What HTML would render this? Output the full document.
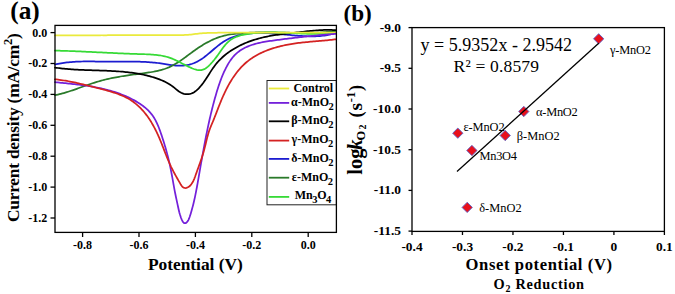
<!DOCTYPE html>
<html><head><meta charset="utf-8"><style>
html,body{margin:0;padding:0;background:#fff;}
body{width:675px;height:294px;overflow:hidden;}
svg{display:block;}
text{font-family:"Liberation Serif",serif;fill:#000;}
.tl{font-size:12px;font-weight:bold;}
.tb{font-size:13.4px;font-weight:bold;}
.lg{font-size:12px;font-weight:bold;}
.sb{font-size:10.5px;}
.pl{font-size:12.4px;}
.ax{font-weight:bold;}
</style></head><body>
<svg width="675" height="294" viewBox="0 0 675 294">
<rect width="675" height="294" fill="#fff"/>
<!-- panel a -->
<text x="10.2" y="19.2" class="ax" font-size="24.3px" textLength="29.6" lengthAdjust="spacingAndGlyphs">(a)</text>
<path d="M55.00,64.52 L56.48,64.18 L57.96,63.87 L59.45,63.58 L60.94,63.31 L62.44,63.07 L63.93,62.84 L65.44,62.64 L66.94,62.45 L68.45,62.29 L69.95,62.14 L71.46,62.01 L72.98,61.89 L74.49,61.79 L76.00,61.71 L77.51,61.64 L79.03,61.58 L80.54,61.53 L82.06,61.50 L83.57,61.47 L85.09,61.45 L86.60,61.44 L88.12,61.44 L89.63,61.45 L91.15,61.46 L92.66,61.47 L94.18,61.49 L95.70,61.51 L97.21,61.54 L98.73,61.56 L100.24,61.59 L101.76,61.61 L103.27,61.63 L104.79,61.66 L106.30,61.67 L107.82,61.68 L109.33,61.69 L110.85,61.70 L112.36,61.70 L113.88,61.69 L115.39,61.68 L116.91,61.68 L118.42,61.66 L119.94,61.65 L121.45,61.64 L122.97,61.63 L124.49,61.62 L126.00,61.61 L127.52,61.61 L129.03,61.61 L130.55,61.61 L132.06,61.61 L133.58,61.62 L135.09,61.64 L136.61,61.66 L138.12,61.69 L139.64,61.73 L141.15,61.78 L142.67,61.83 L144.18,61.90 L145.69,61.97 L147.21,62.06 L148.72,62.15 L150.23,62.26 L151.74,62.38 L153.25,62.52 L154.76,62.67 L156.27,62.83 L157.77,63.00 L159.27,63.20 L160.77,63.41 L162.27,63.63 L163.77,63.86 L165.27,64.10 L166.76,64.34 L168.26,64.57 L169.76,64.80 L171.26,65.01 L172.76,65.20 L174.27,65.37 L175.78,65.51 L177.29,65.61 L178.80,65.67 L180.32,65.68 L181.83,65.64 L183.35,65.54 L184.85,65.39 L186.35,65.18 L187.85,64.91 L189.33,64.58 L190.79,64.20 L192.24,63.75 L193.66,63.24 L195.07,62.67 L196.45,62.04 L197.80,61.35 L199.12,60.61 L200.41,59.82 L201.68,58.99 L202.92,58.13 L204.15,57.23 L205.35,56.31 L206.54,55.37 L207.71,54.41 L208.88,53.44 L210.04,52.46 L211.19,51.48 L212.34,50.49 L213.49,49.51 L214.64,48.52 L215.80,47.55 L216.97,46.58 L218.15,45.63 L219.35,44.70 L220.56,43.79 L221.79,42.91 L223.04,42.06 L224.32,41.25 L225.63,40.48 L226.96,39.75 L228.31,39.06 L229.68,38.41 L231.07,37.81 L232.47,37.25 L233.90,36.73 L235.33,36.25 L236.78,35.81 L238.24,35.40 L239.71,35.04 L241.19,34.71 L242.68,34.41 L244.17,34.14 L245.67,33.91 L247.17,33.71 L248.68,33.53 L250.18,33.38 L251.69,33.26 L253.21,33.16 L254.72,33.09 L256.23,33.03 L257.75,33.00 L259.26,32.99 L260.78,32.99 L262.29,33.01 L263.81,33.04 L265.32,33.09 L266.84,33.15 L268.35,33.23 L269.87,33.31 L271.38,33.41 L272.89,33.51 L274.40,33.62 L275.91,33.74 L277.42,33.87 L278.93,34.00 L280.44,34.13 L281.95,34.27 L283.46,34.41 L284.97,34.55 L286.48,34.69 L287.98,34.84 L289.49,34.98 L291.00,35.12 L292.51,35.26 L294.02,35.39 L295.53,35.52 L297.04,35.64 L298.55,35.76 L300.06,35.86 L301.58,35.96 L303.09,36.05 L304.60,36.13 L306.12,36.20 L307.63,36.25 L309.14,36.29 L310.66,36.31 L312.17,36.32 L313.69,36.30 L315.21,36.27 L316.72,36.21 L318.23,36.13 L319.74,36.02 L321.25,35.89 L322.76,35.72 L324.26,35.53 L325.76,35.30 L327.25,35.04 L328.74,34.74 L330.21,34.40 L331.68,34.01 L333.14,33.59 L334.58,33.12 L336.00,32.60" stroke="#1c1cd0" stroke-width="1.75" fill="none" stroke-linejoin="round" stroke-linecap="round"/>
<path d="M55.00,95.19 L56.48,94.89 L57.96,94.56 L59.43,94.21 L60.90,93.84 L62.36,93.45 L63.82,93.04 L65.28,92.61 L66.73,92.18 L68.17,91.72 L69.61,91.26 L71.05,90.79 L72.49,90.30 L73.92,89.81 L75.35,89.31 L76.78,88.81 L78.20,88.30 L79.63,87.79 L81.05,87.27 L82.48,86.76 L83.91,86.25 L85.33,85.74 L86.76,85.23 L88.19,84.73 L89.62,84.24 L91.05,83.75 L92.49,83.27 L93.93,82.80 L95.37,82.34 L96.82,81.90 L98.27,81.47 L99.73,81.05 L101.19,80.65 L102.65,80.26 L104.12,79.89 L105.59,79.52 L107.06,79.17 L108.54,78.84 L110.02,78.51 L111.50,78.20 L112.98,77.89 L114.47,77.60 L115.96,77.31 L117.45,77.04 L118.94,76.77 L120.43,76.51 L121.92,76.26 L123.42,76.02 L124.91,75.79 L126.41,75.56 L127.91,75.33 L129.41,75.12 L130.91,74.90 L132.41,74.69 L133.91,74.49 L135.41,74.29 L136.91,74.09 L138.41,73.90 L139.92,73.70 L141.42,73.51 L142.92,73.32 L144.42,73.12 L145.92,72.92 L147.42,72.70 L148.92,72.48 L150.42,72.25 L151.91,72.00 L153.40,71.74 L154.89,71.45 L156.37,71.15 L157.85,70.82 L159.32,70.47 L160.79,70.09 L162.25,69.68 L163.70,69.23 L165.13,68.76 L166.56,68.24 L167.97,67.69 L169.36,67.10 L170.74,66.47 L172.09,65.79 L173.43,65.08 L174.75,64.34 L176.06,63.57 L177.34,62.78 L178.62,61.96 L179.88,61.12 L181.13,60.26 L182.37,59.39 L183.60,58.51 L184.83,57.62 L186.05,56.72 L187.26,55.82 L188.48,54.92 L189.69,54.01 L190.91,53.11 L192.13,52.21 L193.35,51.32 L194.58,50.43 L195.82,49.56 L197.06,48.70 L198.32,47.85 L199.58,47.02 L200.85,46.20 L202.14,45.39 L203.43,44.61 L204.74,43.84 L206.05,43.09 L207.38,42.36 L208.72,41.65 L210.07,40.96 L211.43,40.30 L212.81,39.67 L214.19,39.06 L215.59,38.48 L217.00,37.93 L218.43,37.41 L219.86,36.92 L221.30,36.47 L222.76,36.05 L224.23,35.67 L225.70,35.32 L227.18,35.01 L228.67,34.73 L230.16,34.47 L231.66,34.24 L233.16,34.03 L234.66,33.85 L236.17,33.68 L237.67,33.52 L239.18,33.38 L240.69,33.25 L242.20,33.13 L243.71,33.02 L245.22,32.92 L246.73,32.83 L248.25,32.75 L249.76,32.68 L251.27,32.62 L252.79,32.56 L254.30,32.52 L255.81,32.48 L257.33,32.45 L258.84,32.42 L260.36,32.40 L261.87,32.39 L263.39,32.38 L264.90,32.38 L266.41,32.39 L267.93,32.39 L269.44,32.40 L270.96,32.42 L272.47,32.44 L273.99,32.46 L275.50,32.48 L277.01,32.51 L278.53,32.53 L280.04,32.56 L281.56,32.59 L283.07,32.62 L284.59,32.65 L286.10,32.68 L287.61,32.71 L289.13,32.74 L290.64,32.77 L292.16,32.79 L293.67,32.81 L295.19,32.83 L296.70,32.85 L298.21,32.87 L299.73,32.88 L301.24,32.88 L302.76,32.88 L304.27,32.88 L305.79,32.87 L307.30,32.86 L308.82,32.84 L310.33,32.81 L311.84,32.78 L313.36,32.74 L314.87,32.69 L316.38,32.63 L317.90,32.57 L319.41,32.50 L320.92,32.41 L322.43,32.32 L323.95,32.22 L325.46,32.10 L326.96,31.98 L328.47,31.84 L329.98,31.70 L331.49,31.54 L332.99,31.37 L334.49,31.18 L336.00,30.98" stroke="#2a7a2a" stroke-width="1.75" fill="none" stroke-linejoin="round" stroke-linecap="round"/>
<path d="M55.01,67.58 L56.50,67.80 L57.99,68.00 L59.49,68.19 L60.99,68.37 L62.48,68.54 L63.98,68.70 L65.48,68.84 L66.99,68.98 L68.49,69.10 L69.99,69.22 L71.50,69.33 L73.00,69.43 L74.50,69.53 L76.01,69.61 L77.52,69.70 L79.02,69.77 L80.53,69.84 L82.03,69.91 L83.54,69.97 L85.05,70.03 L86.55,70.08 L88.06,70.13 L89.57,70.18 L91.07,70.23 L92.58,70.28 L94.09,70.33 L95.59,70.37 L97.10,70.42 L98.61,70.47 L100.12,70.52 L101.62,70.57 L103.13,70.62 L104.64,70.68 L106.14,70.74 L107.65,70.80 L109.16,70.87 L110.66,70.94 L112.17,71.02 L113.67,71.10 L115.18,71.19 L116.68,71.28 L118.19,71.39 L119.69,71.50 L121.19,71.62 L122.70,71.74 L124.20,71.88 L125.70,72.03 L127.20,72.19 L128.69,72.36 L130.19,72.54 L131.69,72.73 L133.18,72.93 L134.67,73.15 L136.16,73.38 L137.65,73.63 L139.14,73.89 L140.62,74.16 L142.10,74.46 L143.57,74.76 L145.05,75.09 L146.51,75.43 L147.98,75.79 L149.44,76.17 L150.89,76.57 L152.34,76.98 L153.78,77.42 L155.22,77.88 L156.65,78.35 L158.07,78.86 L159.49,79.38 L160.89,79.94 L162.28,80.52 L163.65,81.14 L165.01,81.79 L166.35,82.48 L167.68,83.20 L168.98,83.96 L170.25,84.77 L171.50,85.61 L172.72,86.50 L173.91,87.42 L175.08,88.38 L176.24,89.34 L177.41,90.29 L178.62,91.20 L179.87,92.03 L181.20,92.75 L182.58,93.34 L184.02,93.79 L185.50,94.09 L187.00,94.22 L188.50,94.18 L189.99,93.94 L191.44,93.51 L192.82,92.91 L194.13,92.16 L195.37,91.31 L196.55,90.37 L197.67,89.36 L198.73,88.29 L199.76,87.19 L200.74,86.05 L201.70,84.88 L202.62,83.69 L203.52,82.48 L204.39,81.25 L205.25,80.01 L206.09,78.75 L206.91,77.49 L207.73,76.22 L208.54,74.95 L209.34,73.68 L210.15,72.40 L210.97,71.14 L211.80,69.88 L212.64,68.62 L213.50,67.39 L214.38,66.16 L215.29,64.96 L216.23,63.78 L217.20,62.63 L218.20,61.50 L219.23,60.40 L220.28,59.32 L221.36,58.27 L222.46,57.24 L223.59,56.24 L224.74,55.26 L225.91,54.31 L227.11,53.39 L228.32,52.49 L229.55,51.62 L230.80,50.78 L232.06,49.96 L233.34,49.16 L234.64,48.39 L235.95,47.64 L237.27,46.92 L238.61,46.22 L239.95,45.54 L241.31,44.89 L242.68,44.26 L244.06,43.65 L245.45,43.06 L246.84,42.49 L248.25,41.94 L249.66,41.42 L251.08,40.91 L252.51,40.42 L253.94,39.95 L255.38,39.50 L256.82,39.07 L258.27,38.66 L259.73,38.26 L261.19,37.88 L262.65,37.52 L264.12,37.18 L265.59,36.85 L267.07,36.54 L268.55,36.24 L270.03,35.96 L271.51,35.70 L273.00,35.44 L274.49,35.21 L275.98,34.98 L277.47,34.77 L278.96,34.56 L280.46,34.37 L281.95,34.18 L283.45,34.00 L284.95,33.82 L286.45,33.65 L287.94,33.48 L289.44,33.31 L290.94,33.15 L292.44,32.98 L293.94,32.81 L295.44,32.64 L296.93,32.46 L298.43,32.28 L299.93,32.10 L301.42,31.93 L302.92,31.75 L304.42,31.57 L305.92,31.40 L307.42,31.24 L308.91,31.07 L310.41,30.92 L311.91,30.77 L313.42,30.63 L314.92,30.50 L316.42,30.38 L317.92,30.27 L319.43,30.17 L320.93,30.09 L322.44,30.02 L323.95,29.97 L325.45,29.93 L326.96,29.91 L328.47,29.91 L329.98,29.93 L331.48,29.97 L332.99,30.03 L334.50,30.11 L336.00,30.21" stroke="#000" stroke-width="1.75" fill="none" stroke-linejoin="round" stroke-linecap="round"/>
<path d="M55.00,50.60 L56.51,50.64 L58.01,50.68 L59.52,50.72 L61.03,50.76 L62.54,50.80 L64.05,50.85 L65.56,50.90 L67.07,50.95 L68.58,51.00 L70.08,51.06 L71.59,51.11 L73.10,51.17 L74.61,51.23 L76.12,51.29 L77.62,51.36 L79.13,51.42 L80.64,51.48 L82.15,51.55 L83.66,51.62 L85.16,51.69 L86.67,51.76 L88.18,51.83 L89.69,51.90 L91.19,51.97 L92.70,52.04 L94.21,52.11 L95.72,52.19 L97.22,52.26 L98.73,52.33 L100.24,52.41 L101.75,52.48 L103.25,52.55 L104.76,52.63 L106.27,52.70 L107.78,52.77 L109.28,52.85 L110.79,52.92 L112.30,52.99 L113.81,53.06 L115.32,53.13 L116.82,53.20 L118.33,53.27 L119.84,53.33 L121.35,53.40 L122.85,53.46 L124.36,53.53 L125.87,53.59 L127.38,53.65 L128.89,53.71 L130.40,53.76 L131.90,53.82 L133.41,53.87 L134.92,53.93 L136.43,53.97 L137.94,54.02 L139.45,54.07 L140.96,54.11 L142.46,54.15 L143.97,54.20 L145.48,54.25 L146.99,54.30 L148.50,54.37 L150.00,54.44 L151.51,54.53 L153.02,54.63 L154.52,54.76 L156.02,54.90 L157.52,55.07 L159.02,55.27 L160.51,55.49 L162.00,55.75 L163.48,56.04 L164.95,56.37 L166.42,56.73 L167.87,57.14 L169.31,57.60 L170.73,58.10 L172.14,58.65 L173.53,59.23 L174.91,59.85 L176.27,60.49 L177.63,61.15 L178.98,61.84 L180.32,62.53 L181.66,63.23 L182.99,63.93 L184.33,64.62 L185.68,65.31 L187.02,65.99 L188.38,66.65 L189.75,67.29 L191.13,67.90 L192.52,68.48 L193.94,69.00 L195.38,69.45 L196.84,69.81 L198.33,70.05 L199.84,70.14 L201.34,70.03 L202.82,69.71 L204.22,69.17 L205.54,68.43 L206.77,67.56 L207.93,66.60 L209.04,65.57 L210.11,64.50 L211.14,63.40 L212.16,62.28 L213.14,61.14 L214.11,59.98 L215.05,58.80 L215.97,57.60 L216.86,56.39 L217.75,55.17 L218.62,53.93 L219.48,52.70 L220.35,51.46 L221.22,50.23 L222.10,49.00 L223.00,47.79 L223.92,46.59 L224.87,45.42 L225.85,44.27 L226.88,43.16 L227.94,42.10 L229.06,41.09 L230.24,40.14 L231.47,39.27 L232.76,38.48 L234.09,37.77 L235.46,37.13 L236.85,36.56 L238.28,36.06 L239.72,35.61 L241.18,35.22 L242.64,34.87 L244.12,34.56 L245.60,34.28 L247.09,34.04 L248.59,33.81 L250.08,33.61 L251.58,33.42 L253.08,33.25 L254.58,33.10 L256.08,32.96 L257.59,32.84 L259.09,32.74 L260.60,32.65 L262.11,32.57 L263.62,32.51 L265.12,32.47 L266.63,32.43 L268.14,32.41 L269.65,32.39 L271.16,32.39 L272.67,32.40 L274.18,32.41 L275.69,32.44 L277.20,32.47 L278.71,32.51 L280.22,32.55 L281.72,32.60 L283.23,32.66 L284.74,32.72 L286.25,32.79 L287.76,32.86 L289.26,32.93 L290.77,33.00 L292.28,33.08 L293.79,33.15 L295.29,33.23 L296.80,33.30 L298.31,33.38 L299.82,33.45 L301.32,33.52 L302.83,33.59 L304.34,33.66 L305.85,33.72 L307.36,33.77 L308.86,33.82 L310.37,33.87 L311.88,33.91 L313.39,33.94 L314.90,33.96 L316.41,33.98 L317.92,33.98 L319.43,33.98 L320.94,33.96 L322.45,33.94 L323.95,33.90 L325.46,33.85 L326.97,33.79 L328.48,33.71 L329.99,33.62 L331.49,33.51 L333.00,33.39 L334.50,33.25 L336.00,33.10" stroke="#36da36" stroke-width="1.75" fill="none" stroke-linejoin="round" stroke-linecap="round"/>
<path d="M55.00,35.40 L56.51,35.39 L58.02,35.39 L59.53,35.38 L61.05,35.37 L62.56,35.37 L64.07,35.36 L65.58,35.36 L67.09,35.35 L68.60,35.34 L70.11,35.34 L71.62,35.33 L73.14,35.33 L74.65,35.32 L76.16,35.32 L77.67,35.31 L79.18,35.31 L80.69,35.30 L82.20,35.30 L83.72,35.30 L85.23,35.29 L86.74,35.29 L88.25,35.28 L89.76,35.28 L91.27,35.28 L92.78,35.27 L94.29,35.27 L95.81,35.27 L97.32,35.26 L98.83,35.26 L100.34,35.26 L101.85,35.25 L103.36,35.25 L104.87,35.25 L106.38,35.25 L107.90,35.24 L109.41,35.24 L110.92,35.24 L112.43,35.24 L113.94,35.23 L115.45,35.23 L116.96,35.23 L118.48,35.23 L119.99,35.23 L121.50,35.23 L123.01,35.22 L124.52,35.22 L126.03,35.22 L127.54,35.22 L129.05,35.22 L130.57,35.22 L132.08,35.22 L133.59,35.22 L135.10,35.22 L136.61,35.21 L138.12,35.21 L139.63,35.21 L141.15,35.21 L142.66,35.21 L144.17,35.21 L145.68,35.21 L147.19,35.21 L148.70,35.21 L150.21,35.21 L151.72,35.21 L153.24,35.21 L154.75,35.21 L156.26,35.21 L157.77,35.21 L159.28,35.21 L160.79,35.21 L162.30,35.21 L163.82,35.21 L165.33,35.21 L166.84,35.21 L168.35,35.21 L169.86,35.21 L171.37,35.21 L172.88,35.21 L174.39,35.20 L175.91,35.20 L177.42,35.18 L178.93,35.16 L180.44,35.13 L181.95,35.08 L183.46,35.03 L184.97,34.96 L186.48,34.87 L187.99,34.77 L189.49,34.65 L191.00,34.51 L192.50,34.34 L194.00,34.17 L195.50,33.98 L197.00,33.80 L198.50,33.62 L200.00,33.45 L201.51,33.31 L203.01,33.19 L204.52,33.10 L206.03,33.02 L207.54,32.97 L209.05,32.93 L210.56,32.89 L212.08,32.85 L213.59,32.82 L215.10,32.79 L216.61,32.76 L218.12,32.73 L219.63,32.70 L221.14,32.68 L222.65,32.66 L224.16,32.63 L225.68,32.62 L227.19,32.60 L228.70,32.58 L230.21,32.57 L231.72,32.55 L233.23,32.54 L234.74,32.53 L236.25,32.52 L237.77,32.52 L239.28,32.51 L240.79,32.51 L242.30,32.50 L243.81,32.50 L245.32,32.50 L246.83,32.50 L248.35,32.50 L249.86,32.50 L251.37,32.50 L252.88,32.50 L254.39,32.51 L255.90,32.51 L257.41,32.52 L258.92,32.52 L260.44,32.53 L261.95,32.54 L263.46,32.54 L264.97,32.55 L266.48,32.56 L267.99,32.57 L269.50,32.57 L271.01,32.58 L272.53,32.59 L274.04,32.60 L275.55,32.61 L277.06,32.62 L278.57,32.63 L280.08,32.64 L281.59,32.65 L283.11,32.66 L284.62,32.67 L286.13,32.67 L287.64,32.68 L289.15,32.69 L290.66,32.70 L292.17,32.71 L293.68,32.71 L295.20,32.72 L296.71,32.72 L298.22,32.73 L299.73,32.73 L301.24,32.74 L302.75,32.74 L304.26,32.74 L305.77,32.74 L307.29,32.74 L308.80,32.74 L310.31,32.74 L311.82,32.73 L313.33,32.73 L314.84,32.72 L316.35,32.72 L317.87,32.71 L319.38,32.70 L320.89,32.69 L322.40,32.68 L323.91,32.67 L325.42,32.65 L326.93,32.63 L328.44,32.62 L329.96,32.60 L331.47,32.57 L332.98,32.55 L334.49,32.53 L336.00,32.50" stroke="#eaea3c" stroke-width="1.75" fill="none" stroke-linejoin="round" stroke-linecap="round"/>
<path d="M55.01,82.20 L56.52,82.34 L58.02,82.49 L59.52,82.63 L61.02,82.78 L62.52,82.93 L64.02,83.07 L65.52,83.22 L67.02,83.38 L68.52,83.53 L70.03,83.69 L71.52,83.85 L73.02,84.02 L74.52,84.19 L76.02,84.36 L77.52,84.54 L79.02,84.73 L80.51,84.92 L82.01,85.12 L83.50,85.32 L85.00,85.53 L86.49,85.75 L87.98,85.98 L89.47,86.21 L90.96,86.46 L92.45,86.71 L93.93,86.98 L95.41,87.25 L96.89,87.54 L98.37,87.83 L99.85,88.14 L101.33,88.46 L102.80,88.79 L104.26,89.14 L105.73,89.50 L107.19,89.87 L108.65,90.26 L110.10,90.66 L111.55,91.07 L113.00,91.51 L114.44,91.95 L115.87,92.42 L117.30,92.90 L118.73,93.40 L120.15,93.92 L121.56,94.45 L122.96,95.00 L124.35,95.58 L125.74,96.17 L127.12,96.78 L128.49,97.41 L129.85,98.06 L131.20,98.73 L132.54,99.43 L133.87,100.14 L135.19,100.88 L136.49,101.63 L137.78,102.41 L139.06,103.22 L140.32,104.05 L141.56,104.91 L142.78,105.80 L143.97,106.72 L145.14,107.67 L146.28,108.66 L147.40,109.68 L148.47,110.73 L149.52,111.82 L150.52,112.95 L151.47,114.11 L152.39,115.32 L153.25,116.55 L154.07,117.82 L154.84,119.12 L155.57,120.44 L156.26,121.78 L156.91,123.14 L157.54,124.51 L158.13,125.90 L158.70,127.29 L159.25,128.70 L159.78,130.11 L160.29,131.53 L160.79,132.95 L161.28,134.38 L161.76,135.81 L162.23,137.24 L162.70,138.68 L163.16,140.11 L163.62,141.55 L164.07,142.99 L164.51,144.44 L164.94,145.88 L165.36,147.33 L165.78,148.78 L166.19,150.23 L166.59,151.68 L166.99,153.14 L167.37,154.60 L167.75,156.06 L168.12,157.52 L168.48,158.99 L168.83,160.45 L169.17,161.92 L169.50,163.39 L169.83,164.87 L170.14,166.34 L170.45,167.82 L170.75,169.30 L171.04,170.78 L171.33,172.26 L171.61,173.74 L171.88,175.22 L172.15,176.71 L172.42,178.19 L172.69,179.68 L172.95,181.16 L173.22,182.65 L173.48,184.13 L173.75,185.62 L174.02,187.10 L174.29,188.58 L174.57,190.07 L174.85,191.55 L175.14,193.03 L175.44,194.51 L175.74,195.99 L176.05,197.46 L176.36,198.94 L176.68,200.41 L177.00,201.89 L177.32,203.36 L177.64,204.84 L177.96,206.31 L178.27,207.79 L178.59,209.26 L178.94,210.73 L179.30,212.19 L179.70,213.65 L180.12,215.10 L180.58,216.53 L181.07,217.96 L181.63,219.36 L182.27,220.72 L183.07,222.01 L184.15,223.04 L185.60,223.16 L186.82,222.30 L187.76,221.12 L188.50,219.81 L189.11,218.43 L189.63,217.01 L190.10,215.58 L190.55,214.14 L190.99,212.70 L191.41,211.25 L191.83,209.80 L192.23,208.35 L192.62,206.89 L193.00,205.43 L193.37,203.96 L193.72,202.50 L194.07,201.03 L194.40,199.56 L194.73,198.09 L195.04,196.61 L195.35,195.14 L195.65,193.66 L195.95,192.18 L196.23,190.70 L196.51,189.21 L196.79,187.73 L197.06,186.25 L197.33,184.76 L197.59,183.28 L197.85,181.79 L198.11,180.31 L198.37,178.82 L198.63,177.33 L198.89,175.85 L199.15,174.36 L199.41,172.88 L199.67,171.39 L199.93,169.90 L200.18,168.42 L200.44,166.93 L200.70,165.44 L200.96,163.96 L201.22,162.47 L201.48,160.99 L201.74,159.50 L202.01,158.02 L202.27,156.53 L202.53,155.05 L202.80,153.56 L203.07,152.08 L203.34,150.59 L203.61,149.11 L203.88,147.62 L204.16,146.14 L204.43,144.66 L204.71,143.18 L204.99,141.69 L205.28,140.21 L205.56,138.73 L205.85,137.25 L206.15,135.77 L206.44,134.29 L206.74,132.81 L207.04,131.33 L207.34,129.86 L207.65,128.38 L207.96,126.90 L208.28,125.43 L208.59,123.95 L208.92,122.48 L209.24,121.01 L209.57,119.54 L209.91,118.06 L210.25,116.59 L210.59,115.13 L210.94,113.66 L211.29,112.19 L211.65,110.73 L212.01,109.26 L212.38,107.80 L212.75,106.34 L213.13,104.88 L213.51,103.42 L213.90,101.96 L214.30,100.50 L214.70,99.05 L215.10,97.60 L215.52,96.15 L215.94,94.70 L216.36,93.25 L216.79,91.81 L217.23,90.36 L217.68,88.92 L218.14,87.48 L218.60,86.05 L219.08,84.62 L219.57,83.19 L220.07,81.77 L220.58,80.35 L221.11,78.94 L221.66,77.53 L222.22,76.13 L222.80,74.74 L223.40,73.36 L224.02,71.98 L224.66,70.61 L225.32,69.26 L226.00,67.91 L226.70,66.57 L227.43,65.25 L228.18,63.94 L228.95,62.65 L229.76,61.38 L230.61,60.13 L231.49,58.90 L232.41,57.71 L233.38,56.55 L234.39,55.43 L235.45,54.36 L236.56,53.34 L237.71,52.36 L238.90,51.44 L240.13,50.56 L241.39,49.74 L242.69,48.96 L244.01,48.24 L245.35,47.56 L246.72,46.92 L248.11,46.33 L249.51,45.77 L250.93,45.26 L252.36,44.78 L253.80,44.33 L255.25,43.91 L256.71,43.52 L258.17,43.16 L259.64,42.83 L261.12,42.51 L262.60,42.22 L264.08,41.94 L265.57,41.68 L267.05,41.43 L268.54,41.20 L270.04,40.98 L271.53,40.76 L273.02,40.56 L274.52,40.35 L276.01,40.15 L277.51,39.96 L279.01,39.76 L280.50,39.57 L282.00,39.37 L283.49,39.18 L284.99,38.99 L286.49,38.81 L287.98,38.62 L289.48,38.44 L290.98,38.26 L292.48,38.08 L293.97,37.90 L295.47,37.72 L296.97,37.55 L298.47,37.38 L299.97,37.21 L301.47,37.04 L302.97,36.87 L304.47,36.71 L305.97,36.55 L307.47,36.39 L308.97,36.24 L310.47,36.09 L311.97,35.93 L313.47,35.79 L314.97,35.64 L316.47,35.50 L317.98,35.36 L319.48,35.22 L320.98,35.09 L322.48,34.95 L323.99,34.82 L325.49,34.70 L326.99,34.57 L328.50,34.45 L330.00,34.33 L331.50,34.22 L333.01,34.10 L334.51,33.99 L336.02,33.89" stroke="#7420da" stroke-width="1.75" fill="none" stroke-linejoin="round" stroke-linecap="round"/>
<path d="M54.99,79.31 L56.49,79.47 L57.99,79.65 L59.48,79.84 L60.98,80.04 L62.47,80.26 L63.97,80.49 L65.46,80.73 L66.95,80.98 L68.43,81.25 L69.92,81.53 L71.40,81.81 L72.88,82.11 L74.36,82.42 L75.83,82.73 L77.31,83.06 L78.78,83.39 L80.25,83.73 L81.72,84.08 L83.19,84.43 L84.65,84.79 L86.12,85.15 L87.58,85.51 L89.05,85.88 L90.51,86.25 L91.97,86.62 L93.44,87.00 L94.90,87.37 L96.36,87.74 L97.83,88.12 L99.29,88.49 L100.75,88.86 L102.21,89.24 L103.67,89.62 L105.13,90.01 L106.59,90.40 L108.04,90.81 L109.50,91.22 L110.94,91.65 L112.39,92.09 L113.83,92.55 L115.26,93.02 L116.69,93.51 L118.11,94.03 L119.52,94.56 L120.92,95.12 L122.31,95.71 L123.69,96.32 L125.05,96.97 L126.40,97.64 L127.74,98.35 L129.05,99.09 L130.34,99.87 L131.61,100.69 L132.86,101.55 L134.08,102.44 L135.27,103.36 L136.44,104.32 L137.58,105.31 L138.69,106.32 L139.78,107.37 L140.85,108.44 L141.88,109.54 L142.89,110.66 L143.88,111.80 L144.84,112.96 L145.78,114.15 L146.70,115.35 L147.59,116.57 L148.45,117.80 L149.30,119.05 L150.13,120.32 L150.93,121.59 L151.71,122.88 L152.48,124.19 L153.22,125.50 L153.95,126.82 L154.66,128.16 L155.35,129.50 L156.03,130.85 L156.68,132.21 L157.33,133.57 L157.96,134.94 L158.57,136.32 L159.18,137.71 L159.77,139.10 L160.34,140.49 L160.92,141.89 L161.48,143.29 L162.03,144.69 L162.58,146.10 L163.13,147.50 L163.68,148.91 L164.22,150.32 L164.76,151.73 L165.31,153.14 L165.86,154.54 L166.42,155.94 L166.98,157.35 L167.55,158.74 L168.13,160.14 L168.72,161.53 L169.32,162.91 L169.93,164.29 L170.57,165.66 L171.21,167.03 L171.88,168.38 L172.56,169.73 L173.25,171.07 L173.95,172.41 L174.67,173.73 L175.39,175.06 L176.13,176.38 L176.87,177.70 L177.61,179.01 L178.36,180.32 L179.11,181.63 L179.86,182.94 L180.62,184.24 L181.43,185.52 L182.36,186.70 L183.54,187.63 L184.99,188.03 L186.48,187.86 L187.88,187.31 L189.16,186.50 L190.29,185.50 L191.27,184.36 L192.13,183.12 L192.89,181.81 L193.56,180.46 L194.16,179.08 L194.71,177.67 L195.24,176.26 L195.74,174.83 L196.24,173.41 L196.75,171.99 L197.25,170.57 L197.76,169.15 L198.28,167.73 L198.79,166.31 L199.30,164.88 L199.81,163.46 L200.31,162.04 L200.81,160.62 L201.30,159.19 L201.78,157.76 L202.25,156.32 L202.71,154.88 L203.15,153.44 L203.58,151.99 L203.99,150.54 L204.38,149.08 L204.76,147.62 L205.12,146.16 L205.48,144.69 L205.83,143.22 L206.18,141.75 L206.54,140.28 L206.90,138.82 L207.27,137.36 L207.66,135.90 L208.06,134.44 L208.49,132.99 L208.94,131.55 L209.42,130.12 L209.94,128.70 L210.48,127.30 L211.06,125.90 L211.64,124.51 L212.23,123.12 L212.82,121.73 L213.40,120.33 L213.97,118.94 L214.53,117.53 L215.08,116.13 L215.63,114.72 L216.18,113.32 L216.72,111.91 L217.26,110.50 L217.80,109.09 L218.35,107.68 L218.90,106.28 L219.45,104.87 L220.01,103.47 L220.57,102.07 L221.15,100.67 L221.73,99.28 L222.33,97.89 L222.93,96.51 L223.55,95.13 L224.18,93.76 L224.82,92.39 L225.47,91.03 L226.14,89.68 L226.82,88.33 L227.52,86.99 L228.23,85.66 L228.96,84.34 L229.71,83.03 L230.48,81.73 L231.26,80.44 L232.06,79.16 L232.88,77.89 L233.72,76.64 L234.58,75.40 L235.47,74.17 L236.37,72.96 L237.30,71.77 L238.25,70.60 L239.22,69.45 L240.22,68.31 L241.24,67.20 L242.29,66.11 L243.36,65.05 L244.46,64.01 L245.58,63.01 L246.73,62.02 L247.90,61.07 L249.10,60.15 L250.31,59.26 L251.55,58.40 L252.81,57.57 L254.09,56.76 L255.39,55.99 L256.70,55.24 L258.02,54.52 L259.36,53.82 L260.72,53.15 L262.08,52.51 L263.46,51.89 L264.85,51.30 L266.24,50.73 L267.65,50.18 L269.07,49.65 L270.49,49.15 L271.92,48.67 L273.36,48.20 L274.80,47.76 L276.25,47.34 L277.70,46.94 L279.16,46.55 L280.63,46.19 L282.10,45.84 L283.57,45.50 L285.05,45.19 L286.52,44.89 L288.01,44.61 L289.49,44.34 L290.98,44.08 L292.47,43.84 L293.96,43.61 L295.46,43.39 L296.95,43.19 L298.45,42.99 L299.95,42.81 L301.45,42.63 L302.95,42.47 L304.45,42.31 L305.95,42.15 L307.45,42.01 L308.96,41.87 L310.46,41.73 L311.96,41.60 L313.47,41.46 L314.97,41.34 L316.48,41.21 L317.98,41.08 L319.48,40.95 L320.99,40.82 L322.49,40.69 L324.00,40.56 L325.50,40.42 L327.00,40.28 L328.50,40.14 L330.01,39.99 L331.51,39.83 L333.01,39.66 L334.51,39.49 L336.01,39.31" stroke="#d42222" stroke-width="1.75" fill="none" stroke-linejoin="round" stroke-linecap="round"/>

<rect x="267" y="80.5" width="69.4" height="124.3" fill="#fff" stroke="#222" stroke-width="1"/>
<line x1="268.8" y1="88.50" x2="289.2" y2="88.50" stroke="#eaea3c" stroke-width="1.8"/>
<text x="313.3" y="91.50" class="lg" text-anchor="middle">Control</text>
<line x1="268.8" y1="102.90" x2="289.2" y2="102.90" stroke="#7420da" stroke-width="1.8"/>
<text x="312.4" y="105.90" class="lg" text-anchor="middle">α-MnO<tspan class="sb" dy="3.8" dx="-0.6">2</tspan></text>
<line x1="268.8" y1="121.30" x2="289.2" y2="121.30" stroke="#000" stroke-width="1.8"/>
<text x="312.4" y="123.90" class="lg" text-anchor="middle">β-MnO<tspan class="sb" dy="3.8" dx="-0.6">2</tspan></text>
<line x1="268.8" y1="140.60" x2="289.2" y2="140.60" stroke="#d42222" stroke-width="1.8"/>
<text x="312.4" y="143.40" class="lg" text-anchor="middle">γ-MnO<tspan class="sb" dy="3.8" dx="-0.6">2</tspan></text>
<line x1="268.8" y1="158.90" x2="289.2" y2="158.90" stroke="#1c1cd0" stroke-width="1.8"/>
<text x="312.4" y="161.85" class="lg" text-anchor="middle">δ-MnO<tspan class="sb" dy="3.8" dx="-0.6">2</tspan></text>
<line x1="268.8" y1="177.70" x2="289.2" y2="177.70" stroke="#2a7a2a" stroke-width="1.8"/>
<text x="312.4" y="181.10" class="lg" text-anchor="middle">ε-MnO<tspan class="sb" dy="3.8" dx="-0.6">2</tspan></text>
<line x1="268.8" y1="196.90" x2="289.2" y2="196.90" stroke="#36da36" stroke-width="1.8"/>
<text x="313" y="199.40" class="lg" text-anchor="middle">Mn<tspan class="sb" dy="3.6" dx="-0.3">3</tspan><tspan dy="-3.6" dx="-0.3">O</tspan><tspan class="sb" dy="3.6" dx="-0.5">4</tspan></text>

<rect x="55" y="25.4" width="281.4" height="207" fill="none" stroke="#000" stroke-width="1.3"/>
<line x1="50.5" y1="32.60" x2="55" y2="32.60" stroke="#000" stroke-width="1.3"/>
<text x="47.3" y="36.50" class="tl" text-anchor="end">0.0</text>
<line x1="50.5" y1="63.50" x2="55" y2="63.50" stroke="#000" stroke-width="1.3"/>
<text x="47.3" y="67.40" class="tl" text-anchor="end">-0.2</text>
<line x1="50.5" y1="94.40" x2="55" y2="94.40" stroke="#000" stroke-width="1.3"/>
<text x="47.3" y="98.30" class="tl" text-anchor="end">-0.4</text>
<line x1="50.5" y1="125.30" x2="55" y2="125.30" stroke="#000" stroke-width="1.3"/>
<text x="47.3" y="129.20" class="tl" text-anchor="end">-0.6</text>
<line x1="50.5" y1="156.20" x2="55" y2="156.20" stroke="#000" stroke-width="1.3"/>
<text x="47.3" y="160.10" class="tl" text-anchor="end">-0.8</text>
<line x1="50.5" y1="187.10" x2="55" y2="187.10" stroke="#000" stroke-width="1.3"/>
<text x="47.3" y="191.00" class="tl" text-anchor="end">-1.0</text>
<line x1="50.5" y1="218.00" x2="55" y2="218.00" stroke="#000" stroke-width="1.3"/>
<text x="47.3" y="221.90" class="tl" text-anchor="end">-1.2</text>
<line x1="82.60" y1="232.4" x2="82.60" y2="237" stroke="#000" stroke-width="1.3"/>
<text x="82.60" y="248.9" class="tl" text-anchor="middle">-0.8</text>
<line x1="139.00" y1="232.4" x2="139.00" y2="237" stroke="#000" stroke-width="1.3"/>
<text x="139.00" y="248.9" class="tl" text-anchor="middle">-0.6</text>
<line x1="195.40" y1="232.4" x2="195.40" y2="237" stroke="#000" stroke-width="1.3"/>
<text x="195.40" y="248.9" class="tl" text-anchor="middle">-0.4</text>
<line x1="251.80" y1="232.4" x2="251.80" y2="237" stroke="#000" stroke-width="1.3"/>
<text x="251.80" y="248.9" class="tl" text-anchor="middle">-0.2</text>
<line x1="308.20" y1="232.4" x2="308.20" y2="237" stroke="#000" stroke-width="1.3"/>
<text x="308.20" y="248.9" class="tl" text-anchor="middle">0.0</text>

<text transform="translate(19.4,127.6) rotate(-90)" text-anchor="middle" class="ax" font-size="17.4px" textLength="189" lengthAdjust="spacing">Current density (mA/cm<tspan font-size="12.5px" dy="-7">2</tspan><tspan dy="7">)</tspan></text>
<text x="195.4" y="270" text-anchor="middle" class="ax" font-size="17.4px" textLength="95" lengthAdjust="spacing">Potential (V)</text>
<!-- panel b -->
<text x="343.5" y="21.2" class="ax" font-size="23.2px">(b)</text>
<path d="M598.70,33.65 L603.85,38.80 L598.70,43.95 L593.55,38.80 Z" fill="#e8101c" stroke="#5a64c8" stroke-width="0.9"/>
<path d="M523.80,106.35 L528.95,111.50 L523.80,116.65 L518.65,111.50 Z" fill="#e8101c" stroke="#5a64c8" stroke-width="0.9"/>
<path d="M505.20,130.35 L510.35,135.50 L505.20,140.65 L500.05,135.50 Z" fill="#e8101c" stroke="#5a64c8" stroke-width="0.9"/>
<path d="M457.80,128.05 L462.95,133.20 L457.80,138.35 L452.65,133.20 Z" fill="#e8101c" stroke="#5a64c8" stroke-width="0.9"/>
<path d="M471.90,145.35 L477.05,150.50 L471.90,155.65 L466.75,150.50 Z" fill="#e8101c" stroke="#5a64c8" stroke-width="0.9"/>
<path d="M467.20,202.25 L472.35,207.40 L467.20,212.55 L462.05,207.40 Z" fill="#e8101c" stroke="#5a64c8" stroke-width="0.9"/>

<line x1="457" y1="171.5" x2="598.7" y2="43.2" stroke="#000" stroke-width="1.3"/>
<text x="610.10" y="53.50" class="pl" textLength="40.90" lengthAdjust="spacing">γ-MnO2</text>
<text x="536.10" y="116.10" class="pl" textLength="41.60" lengthAdjust="spacing">α-MnO2</text>
<text x="516.70" y="139.50" class="pl" textLength="43.10" lengthAdjust="spacing">β-MnO2</text>
<text x="463.50" y="131.10" class="pl" textLength="41.10" lengthAdjust="spacing">ε-MnO2</text>
<text x="479.50" y="160.20" class="pl" textLength="37.40" lengthAdjust="spacing">Mn3O4</text>
<text x="479.20" y="211.80" class="pl" textLength="42.40" lengthAdjust="spacing">δ-MnO2</text>

<rect x="412" y="27.6" width="252.4" height="203.8" fill="none" stroke="#000" stroke-width="1.3"/>
<line x1="408.5" y1="27.60" x2="412" y2="27.60" stroke="#000" stroke-width="1.3"/>
<text x="401" y="31.60" class="tb" text-anchor="end">-9.0</text>
<line x1="408.5" y1="68.30" x2="412" y2="68.30" stroke="#000" stroke-width="1.3"/>
<text x="401" y="72.30" class="tb" text-anchor="end">-9.5</text>
<line x1="408.5" y1="109.00" x2="412" y2="109.00" stroke="#000" stroke-width="1.3"/>
<text x="401" y="113.00" class="tb" text-anchor="end">-10.0</text>
<line x1="408.5" y1="149.70" x2="412" y2="149.70" stroke="#000" stroke-width="1.3"/>
<text x="401" y="153.70" class="tb" text-anchor="end">-10.5</text>
<line x1="408.5" y1="190.40" x2="412" y2="190.40" stroke="#000" stroke-width="1.3"/>
<text x="401" y="194.40" class="tb" text-anchor="end">-11.0</text>
<line x1="408.5" y1="231.10" x2="412" y2="231.10" stroke="#000" stroke-width="1.3"/>
<text x="401" y="235.10" class="tb" text-anchor="end">-11.5</text>
<line x1="412.00" y1="231.4" x2="412.00" y2="235" stroke="#000" stroke-width="1.3"/>
<text x="412.00" y="251" class="tb" text-anchor="middle">-0.4</text>
<line x1="462.48" y1="231.4" x2="462.48" y2="235" stroke="#000" stroke-width="1.3"/>
<text x="462.48" y="251" class="tb" text-anchor="middle">-0.3</text>
<line x1="512.96" y1="231.4" x2="512.96" y2="235" stroke="#000" stroke-width="1.3"/>
<text x="512.96" y="251" class="tb" text-anchor="middle">-0.2</text>
<line x1="563.44" y1="231.4" x2="563.44" y2="235" stroke="#000" stroke-width="1.3"/>
<text x="563.44" y="251" class="tb" text-anchor="middle">-0.1</text>
<line x1="613.92" y1="231.4" x2="613.92" y2="235" stroke="#000" stroke-width="1.3"/>
<text x="613.92" y="251" class="tb" text-anchor="middle">0</text>
<line x1="664.40" y1="231.4" x2="664.40" y2="235" stroke="#000" stroke-width="1.3"/>
<text x="664.40" y="251" class="tb" text-anchor="middle">0.1</text>

<text x="496.3" y="51.2" text-anchor="middle" font-size="18px" textLength="151.5" lengthAdjust="spacing">y = 5.9352x - 2.9542</text>
<text x="496.3" y="71.8" text-anchor="middle" font-size="17.5px" textLength="85.5" lengthAdjust="spacing">R² = 0.8579</text>
<text transform="translate(362,175) rotate(-90)" class="ax" font-size="20.5px"><tspan x="0.3" y="0">log</tspan><tspan x="25.3" y="0" font-style="italic">k</tspan><tspan x="34.6" y="3" font-size="12.5px">O</tspan><tspan x="45.6" y="3.8" font-size="10px">2</tspan><tspan x="57.4" y="0" font-size="18.5px">(</tspan><tspan x="64.4" y="0" font-size="19.5px">s</tspan><tspan x="72.8" y="-6.7" font-size="12.5px">-1</tspan><tspan x="84" y="0" font-size="18.5px">)</tspan></text>
<text x="538.8" y="269.6" text-anchor="middle" class="ax" font-size="16.6px" textLength="146.5" lengthAdjust="spacing">Onset potential (V)</text>
<text x="538.8" y="288.8" text-anchor="middle" class="ax" font-size="14.3px" textLength="90.5" lengthAdjust="spacing">O<tspan font-size="10px" dy="3">2</tspan><tspan dy="-3"> Reduction</tspan></text>
</svg>
</body></html>
